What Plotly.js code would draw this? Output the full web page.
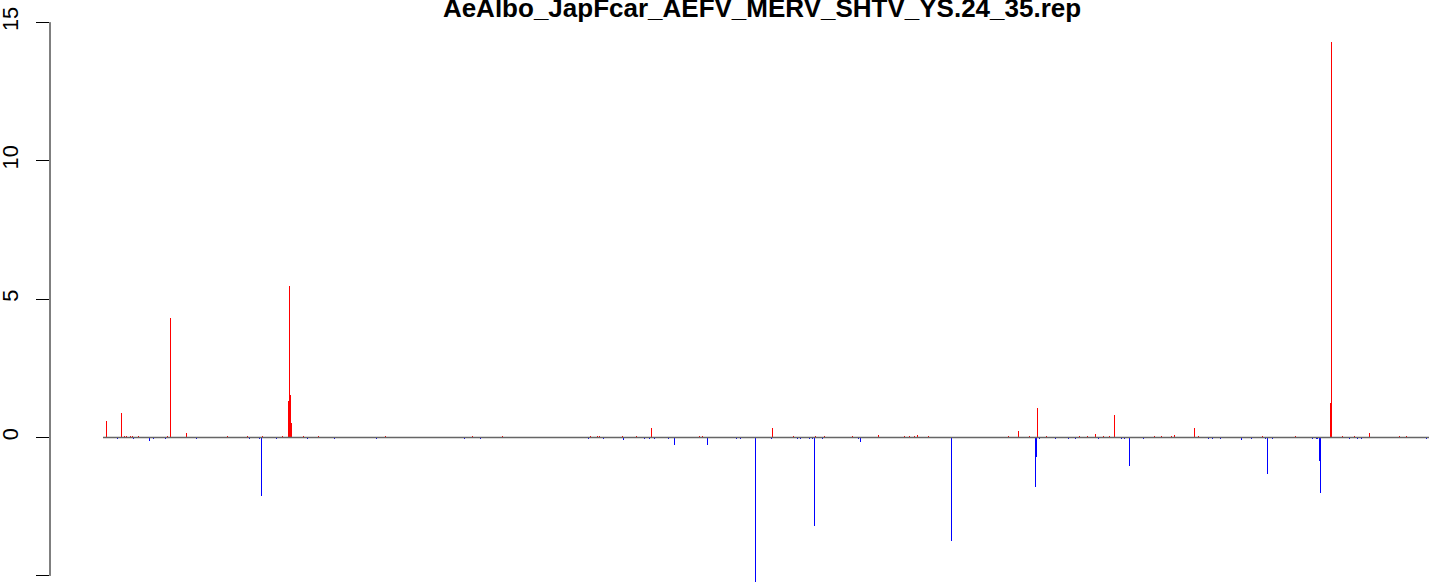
<!DOCTYPE html>
<html>
<head>
<meta charset="utf-8">
<script src="https://cdn.plot.ly/plotly-3.0.1.min.js"></script>
<style>html,body{margin:0;padding:0;background:#fff;}#chart{width:1429px;height:582px;}</style>
</head>
<body>
<div id="chart"></div>
<script>
// Positive-strand (red) positions and values
const redPos = [6, 21, 24, 26, 30, 32, 38, 67, 70, 86, 127, 147, 162, 182, 188, 189, 190, 191, 203, 218,
  285, 372, 402, 490, 497, 499, 522, 536, 551, 599, 602, 672, 693, 715, 724, 752, 778, 804, 809, 814, 817, 828,
  908, 918, 929, 937, 946, 979, 987, 995, 1003, 1009, 1014, 1054, 1061, 1071, 1074, 1094, 1098,
  1162, 1195, 1230, 1231, 1242, 1254, 1269, 1299, 1306];
const redVal = [0.59, 0.88, 0.06, 0.06, 0.06, 0.06, 0.06, 0.06, 4.33, 0.15, 0.06, 0.06, 0.06, 0.06, 1.30, 5.46, 1.52, 0.53, 0.06, 0.06,
  0.06, 0.06, 0.06, 0.06, 0.06, 0.06, 0.06, 0.06, 0.34, 0.06, 0.06, 0.34, 0.06, 0.06, 0.06, 0.06, 0.10, 0.07, 0.06, 0.06, 0.10, 0.06,
  0.06, 0.24, 0.06, 1.06, 0.06, 0.06, 0.06, 0.12, 0.06, 0.06, 0.81, 0.06, 0.06, 0.06, 0.08, 0.34, 0.06,
  0.06, 0.06, 1.24, 14.30, 0.06, 0.06, 0.16, 0.06, 0.06];

// Negative-strand (blue) positions and values
const bluePos = [17, 33, 49, 53, 65, 96, 149, 159, 161, 176, 207, 234,
  276, 364, 380, 488, 503, 523, 544, 549, 554, 568, 574, 607, 636, 640, 655, 671, 697, 700, 709, 712, 714, 722, 758, 760, 851,
  935, 936, 939, 955, 968, 975, 998, 1021, 1024, 1029, 1043, 1108, 1112, 1120, 1141,
  1151, 1165, 1167, 1172, 1212, 1216, 1217, 1219, 1220, 1249, 1257, 1261, 1326];
const blueVal = [-0.06, -0.06, -0.12, -0.06, -0.06, -0.06, -0.06, -0.06, -2.12, -0.06, -0.06, -0.06,
  -0.06, -0.06, -0.06, -0.06, -0.06, -0.09, -0.06, -0.06, -0.06, -0.06, -0.26, -0.26, -0.06, -0.06, -5.30, -0.06, -0.06, -0.06, -0.06, -0.06, -3.19, -0.06, -0.06, -0.16, -3.73,
  -1.78, -0.70, -0.06, -0.06, -0.06, -0.06, -0.06, -0.06, -0.06, -1.02, -0.06, -0.06, -0.06, -0.06, -0.10,
  -0.06, -0.06, -1.31, -0.06, -0.06, -0.06, -0.06, -0.84, -2.00, -0.06, -0.06, -0.06, -0.06];

const yTicks = [-5, 0, 5, 10, 15];
const yTickText = ['-5', '0', '5', '10', '15'];
const chartTitle = 'AeAlbo_JapFcar_AEFV_MERV_SHTV_YS.24_35.rep';

const traces = [
  {type: 'bar', x: redPos, y: redVal, width: 1, marker: {color: '#FF0000', line: {width: 0}}, hoverinfo: 'x+y'},
  {type: 'bar', x: bluePos, y: blueVal, width: 1, marker: {color: '#0000FF', line: {width: 0}}, hoverinfo: 'x+y'}
];

const layout = {
  width: 1429, height: 582,
  margin: {l: 50, r: 0, t: 0, b: 0, pad: 0},
  paper_bgcolor: '#fff', plot_bgcolor: '#fff',
  showlegend: false,
  barmode: 'overlay', bargap: 0,
  font: {family: 'Liberation Sans, Arial, sans-serif', color: '#000'},
  title: {
    text: '<b>' + chartTitle + '</b>',
    font: {family: 'Liberation Sans, Arial, sans-serif', size: 26, color: '#000'},
    xref: 'container', x: 762 / 1429, xanchor: 'center',
    yref: 'container', y: 1 - 17 / 582, yanchor: 'bottom', pad: {t: 0, b: 0}
  },
  xaxis: {
    range: [-50.5, 1328.5], showgrid: false, zeroline: false, showline: false,
    showticklabels: false, ticks: '', fixedrange: true
  },
  yaxis: {
    range: [-5.22, 15.8], showgrid: false, zeroline: false, showline: false,
    tickvals: yTicks, ticktext: yTickText, ticks: 'outside', ticklen: 13, tickwidth: 1, tickcolor: '#000',
    tickangle: -90, tickfont: {size: 21.7, color: '#000', family: 'Liberation Sans, Arial, sans-serif'},
    ticklabelstandoff: 9, fixedrange: true
  },
  shapes: [
    {type: 'line', xref: 'paper', yref: 'y', x0: 0, x1: 0, y0: yTicks[0], y1: yTicks[yTicks.length - 1],
     line: {color: '#000', width: 1}, layer: 'above'},
    {type: 'line', xref: 'x', yref: 'y', x0: 2.5, x1: 1340, y0: 0, y1: 0,
     line: {color: '#666', width: 1.6}, layer: 'above'}
  ]
};

Plotly.newPlot('chart', traces, layout, {displayModeBar: false, staticPlot: true});
</script>
</body>
</html>
